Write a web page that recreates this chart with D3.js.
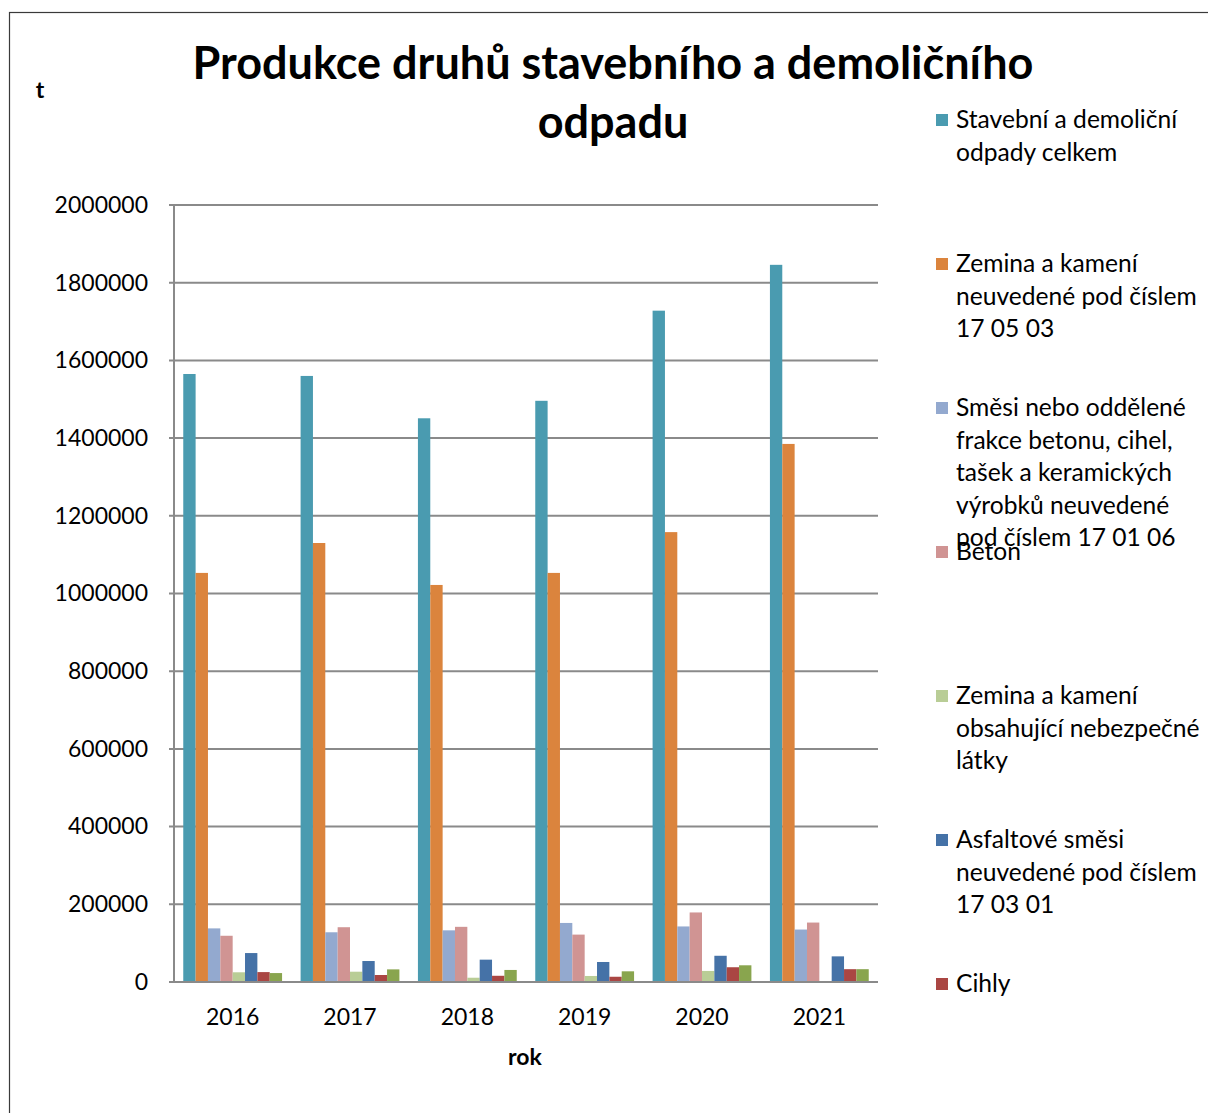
<!DOCTYPE html>
<html>
<head>
<meta charset="utf-8">
<script src="https://cdn.jsdelivr.net/npm/d3@7"></script>
<style>
  html, body { margin: 0; padding: 0; background: #fff; }
  svg { display: block; }
  text { font-family: Lato, "Open Sans", sans-serif; fill: #000; }
</style>
</head>
<body>
<svg id="chart" width="1208" height="1113"></svg>
<script>
// ---------- data ----------
const years = ["2016", "2017", "2018", "2019", "2020", "2021"];

const seriesNames = [
  "Stavební a demoliční odpady celkem",
  "Zemina a kamení neuvedené pod číslem 17 05 03",
  "Směsi nebo oddělené frakce betonu, cihel, tašek a keramických výrobků neuvedené pod číslem 17 01 06",
  "Beton",
  "Zemina a kamení obsahující nebezpečné látky",
  "Asfaltové směsi neuvedené pod číslem 17 03 01",
  "Cihly",
  "Směsné stavební a demoliční odpady"
];

const legendLines = [
  ["Stavební a demoliční", "odpady celkem"],
  ["Zemina a kamení", "neuvedené pod číslem", "17 05 03"],
  ["Směsi nebo oddělené", "frakce betonu, cihel,", "tašek a keramických", "výrobků neuvedené", "pod číslem 17 01 06"],
  ["Beton"],
  ["Zemina a kamení", "obsahující nebezpečné", "látky"],
  ["Asfaltové směsi", "neuvedené pod číslem", "17 03 01"],
  ["Cihly"],
  ["Směsné stavební a", "demoliční odpady"]
];

const seriesColors = ["#4A9BB0", "#DB843D", "#93A9CF", "#D09493", "#B9CD96", "#4572A7", "#AA4643", "#89A54E"];

const celkem      = [1565000, 1560000, 1451000, 1496000, 1728000, 1846000];
const zemina      = [1053000, 1130000, 1022000, 1053000, 1158000, 1385000];
const smesi       = [ 138000,  128000,  133000,  152000,  143000,  135000];
const beton       = [ 119000,  141000,  142000,  122000,  179000,  153000];
const zeminaNebez = [  25000,   26500,   11000,   15500,   28500,       0];
const asfalt      = [  74500,   54000,   57500,   51500,   67500,   66000];
const cihly       = [  25500,   18000,   16000,   13500,   38000,   33000];
const smesne      = [  23000,   32500,   31000,   27500,   43000,   33000];

const seriesValues = [celkem, zemina, smesi, beton, zeminaNebez, asfalt, cihly, smesne];

const yTicks = [0, 200000, 400000, 600000, 800000, 1000000, 1200000, 1400000, 1600000, 1800000, 2000000];

const titleLines = ["Produkce druhů stavebního a demoličního", "odpadu"];
const yAxisTitle = "t";
const xAxisTitle = "rok";

// ---------- layout ----------
const W = 1208, H = 1113;
const plot = { left: 174, right: 878, top: 205, bottom: 982 };
const svg = d3.select("#chart");

// outer frame
svg.append("rect")
  .attr("x", 9.5).attr("y", 12.5)
  .attr("width", W + 20).attr("height", H + 20)
  .attr("fill", "none").attr("stroke", "#3a3a3a").attr("stroke-width", 1.2);

const x = d3.scaleBand().domain(years).range([plot.left, plot.right]).paddingInner(0).paddingOuter(0);
const xs = d3.scaleBand().domain(d3.range(seriesNames.length)).range([0, x.bandwidth()])
  .paddingInner(0).paddingOuter(0.75);
const y = d3.scaleLinear().domain([0, 2000000]).range([plot.bottom, plot.top]);

const gridColor = "#8a8a8a";

// gridlines
svg.append("g").selectAll("line").data(yTicks).join("line")
  .attr("x1", plot.left - 5).attr("x2", plot.right)
  .attr("y1", d => y(d)).attr("y2", d => y(d))
  .attr("stroke", gridColor).attr("stroke-width", 2);

// y axis line
svg.append("line")
  .attr("x1", plot.left).attr("x2", plot.left)
  .attr("y1", plot.top).attr("y2", plot.bottom)
  .attr("stroke", gridColor).attr("stroke-width", 2);

// y tick labels via d3 axis
const yAxis = d3.axisLeft(y).tickValues(yTicks).tickFormat(d3.format("d")).tickSize(0).tickPadding(26);
const yg = svg.append("g").attr("transform", `translate(${plot.left},0)`).call(yAxis);
yg.select(".domain").remove();
yg.selectAll("text").style("font-family", "Lato, sans-serif").style("font-size", "23px").attr("fill", "#000");

// x axis labels
const xAxis = d3.axisBottom(x).tickSize(0).tickPadding(27);
const xg = svg.append("g").attr("transform", `translate(0,${plot.bottom})`).call(xAxis);
xg.select(".domain").remove();
xg.selectAll("text").style("font-family", "Lato, sans-serif").style("font-size", "23px").attr("fill", "#000");

// bars
const groups = svg.append("g").selectAll("g").data(seriesValues).join("g")
  .attr("fill", (d, i) => seriesColors[i]);
groups.selectAll("rect")
  .data((vals, si) => vals.map((v, yi) => ({ v, yi, si })))
  .join("rect")
  .filter(d => d.v > 0)
  .attr("x", d => x(years[d.yi]) + xs(d.si))
  .attr("width", xs.bandwidth())
  .attr("y", d => y(d.v))
  .attr("height", d => y(0) - y(d.v));

// x axis baseline
svg.append("line")
  .attr("x1", plot.left).attr("x2", plot.right)
  .attr("y1", plot.bottom).attr("y2", plot.bottom)
  .attr("stroke", gridColor).attr("stroke-width", 2);

// title
svg.append("g").selectAll("text").data(titleLines).join("text")
  .attr("x", 613).attr("y", (d, i) => 79 + i * 59)
  .attr("text-anchor", "middle")
  .style("font-size", "45px").style("font-weight", "bold")
  .text(d => d);

// axis titles
svg.append("text").attr("x", 40).attr("y", 98).attr("text-anchor", "middle")
  .style("font-size", "23px").style("font-weight", "bold").text(yAxisTitle);
svg.append("text").attr("x", 525).attr("y", 1065).attr("text-anchor", "middle")
  .style("font-size", "23px").style("font-weight", "bold").text(xAxisTitle);

// legend
const legendTop = 120, legendStep = 144, lineH = 32.5;
const legendItems = seriesNames.map((n, i) => i).filter(i => legendTop + i * legendStep < H);
const lg = svg.append("g").selectAll("g").data(legendItems).join("g")
  .attr("transform", i => `translate(936,${legendTop + i * legendStep})`);
lg.append("rect").attr("x", 0).attr("y", -6).attr("width", 12).attr("height", 12)
  .attr("fill", i => seriesColors[i]);
lg.each(function(i) {
  d3.select(this).selectAll("text").data(legendLines[i]).join("text")
    .attr("x", 20).attr("y", (d, k) => k * lineH + 8)
    .style("font-size", "24.6px")
    .text(d => d);
});
</script>
</body>
</html>
